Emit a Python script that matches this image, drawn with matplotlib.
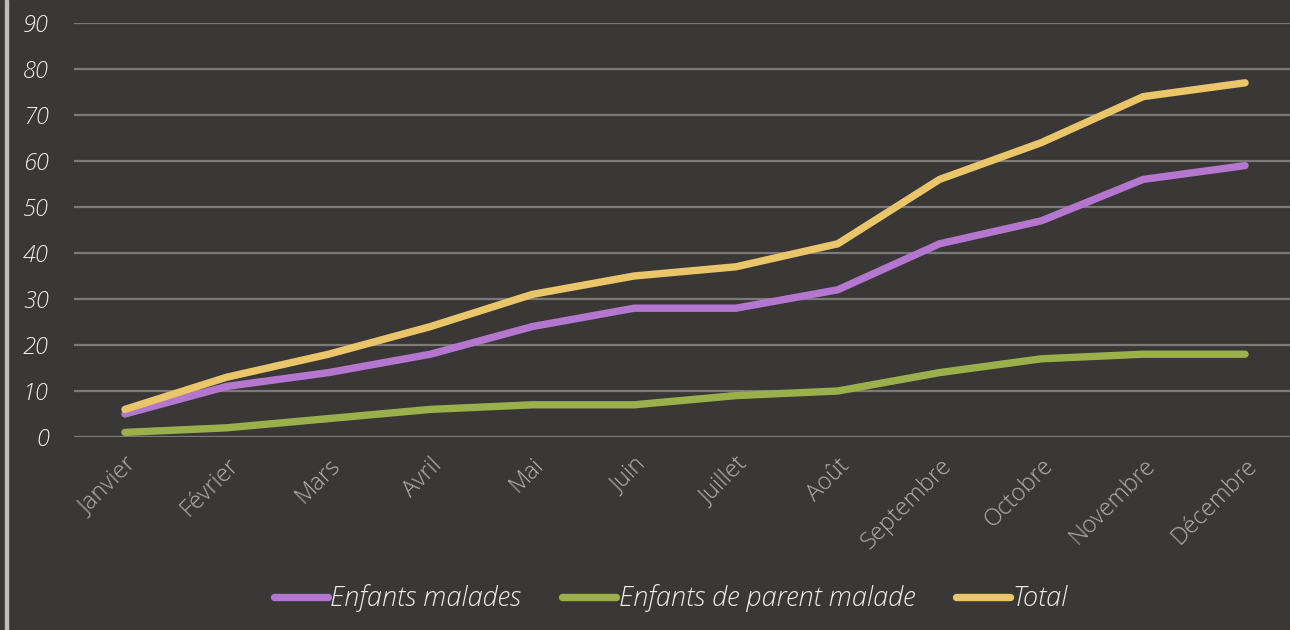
import matplotlib.pyplot as plt
from matplotlib.patches import Rectangle

mois = ['Janvier', 'Février', 'Mars', 'Avril', 'Mai', 'Juin', 'Juillet', 'Août',
        'Septembre', 'Octobre', 'Novembre', 'Décembre']
enfants_malades = [5, 11, 14, 18, 24, 28, 28, 32, 42, 47, 56, 59]
parent_malade = [1, 2, 4, 6, 7, 7, 9, 10, 14, 17, 18, 18]
total = [6, 13, 18, 24, 31, 35, 37, 42, 56, 64, 74, 77]

bg = '#393837'
plt.rcParams['font.family'] = ['Open Sans', 'DejaVu Sans']

fig = plt.figure(figsize=(12.9, 6.3), dpi=100, facecolor=bg)
ax = fig.add_axes([74 / 1290, 1 - 437 / 630, (1296 - 74) / 1290, (437 - 23) / 630])
ax.set_facecolor(bg)

# left border strip
fig.patches.append(Rectangle((5 / 1290, 0), 3 / 1290, 1, transform=fig.transFigure,
                             color='#bdbdbd', zorder=0))

x = range(len(mois))
lw = 5.3
ax.plot(x, enfants_malades, color='#b476cf', lw=lw, solid_capstyle='round',
        label='Enfants malades', zorder=3)
ax.plot(x, parent_malade, color='#9bb04a', lw=lw, solid_capstyle='round',
        label='Enfants de parent malade', zorder=3)
ax.plot(x, total, color='#eac56a', lw=lw, solid_capstyle='round',
        label='Total', zorder=3)

ax.set_xlim(-0.5, len(mois) - 0.5)
ax.set_ylim(0, 90)
ax.set_yticks(range(0, 91, 10))
ax.grid(axis='y', color='#7b7a79', lw=1.6)
ax.set_axisbelow(True)
for s in ax.spines.values():
    s.set_visible(False)

ax.set_xticks(list(x))
ax.set_xticklabels(mois, rotation=45, ha='right', rotation_mode='anchor',
                   fontsize=17, color='#b0afae', fontweight=300)
ax.tick_params(axis='x', length=0, pad=12)
ax.tick_params(axis='y', length=0, pad=18, labelsize=17, labelcolor='#eeeeee')
for t in ax.get_yticklabels():
    t.set_fontstyle('italic')
    t.set_fontweight(300)

leg = fig.legend(loc='center', bbox_to_anchor=(0.52, 1 - 598 / 630), ncol=3,
                 frameon=False, handlelength=2.0, handletextpad=0.1,
                 columnspacing=1.5, prop={'size': 19.5, 'style': 'italic', 'weight': 300})
for t in leg.get_texts():
    t.set_color('#eeeeee')

fig.savefig('out.png', facecolor=bg)
